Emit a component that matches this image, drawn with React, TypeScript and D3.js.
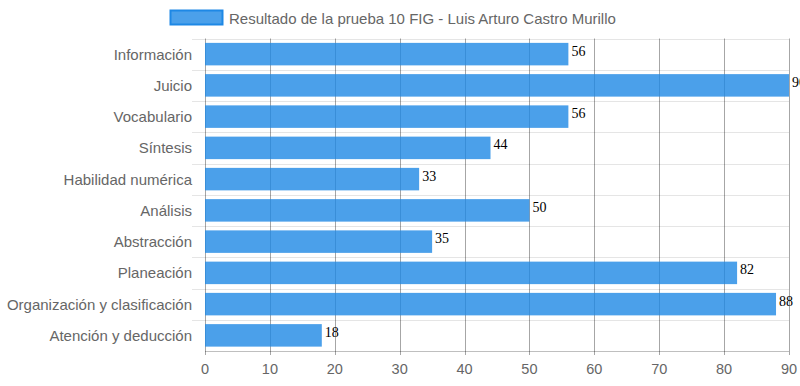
import React from "react";
import * as d3 from "d3";

const categories = [
  "Información",
  "Juicio",
  "Vocabulario",
  "Síntesis",
  "Habilidad numérica",
  "Análisis",
  "Abstracción",
  "Planeación",
  "Organización y clasificación",
  "Atención y deducción",
];
const values = [56, 90, 56, 44, 33, 50, 35, 82, 88, 18];
const xTicks = [0, 10, 20, 30, 40, 50, 60, 70, 80, 90];
const legendLabel = "Resultado de la prueba 10 FIG - Luis Arturo Castro Murillo";

const W = 800;
const H = 386;
const left = 205;
const right = 789;
const top = 38.5;
const bottom = 351;

export default function App() {
  const x = d3.scaleLinear().domain([0, 90]).range([left, right]);
  const y = d3.scaleBand<string>().domain(categories).range([top, bottom]);
  const bw = y.bandwidth();
  const barH = bw * 0.8 * 0.9;
  const font = "'Liberation Sans', Arial, sans-serif";

  return (
    <svg
      width={W}
      height={H}
      style={{ position: "absolute", left: 0, top: 0, background: "#fff" }}
    >
      {/* horizontal gridlines (between categories) */}
      {categories.map((c, i) => {
        const yy = Math.round(y(c)!) + 0.5;
        return (
          <line
            key={"h" + i}
            x1={192}
            x2={right}
            y1={yy}
            y2={yy}
            stroke="rgba(0,0,0,0.1)"
          />
        );
      })}
      {/* vertical gridlines */}
      {xTicks.map((t, i) => {
        const xx = Math.round(x(t)) + 0.5;
        return (
          <line
            key={"v" + i}
            x1={xx}
            x2={xx}
            y1={top}
            y2={bottom + 4}
            stroke="rgba(0,0,0,0.35)"
          />
        );
      })}
      {/* bottom axis line */}
      <line x1={left} x2={right} y1={bottom + 0.5} y2={bottom + 0.5} stroke="rgba(0,0,0,0.25)" />
      {/* bars */}
      {categories.map((c, i) => {
        const cy = y(c)! + bw / 2;
        return (
          <rect
            key={"b" + i}
            x={x(0)}
            y={cy - barH / 2}
            width={x(values[i]) - x(0)}
            height={barH}
            fill="rgba(30,136,229,0.8)"
          />
        );
      })}
      {/* value labels */}
      {categories.map((c, i) => {
        const cy = y(c)! + bw / 2;
        return (
          <text
            key={"l" + i}
            x={x(values[i]) + 3}
            y={cy + 1.5}
            fontFamily="'Liberation Serif', 'Times New Roman', serif"
            fontSize={14}
            fill="#000"
          >
            {values[i]}
          </text>
        );
      })}
      {/* category labels */}
      {categories.map((c, i) => {
        const cy = y(c)! + bw / 2;
        return (
          <text
            key={"c" + i}
            x={192}
            y={cy}
            textAnchor="end"
            dominantBaseline="central"
            fontFamily={font}
            fontSize={15}
            fill="#666"
          >
            {c}
          </text>
        );
      })}
      {/* x tick labels */}
      {xTicks.map((t, i) => (
        <text
          key={"t" + i}
          x={x(t)}
          y={369}
          textAnchor="middle"
          dominantBaseline="central"
          fontFamily={font}
          fontSize={14.5}
          fill="#666"
        >
          {t}
        </text>
      ))}
      {/* legend */}
      <rect x={170.5} y={10.5} width={52} height={14} fill="rgba(30,136,229,0.8)" stroke="#1E88E5" strokeWidth={2} />
      <text
        x={229}
        y={18}
        dominantBaseline="central"
        fontFamily={font}
        fontSize={15}
        fill="#666"
      >
        {legendLabel}
      </text>
    </svg>
  );
}
